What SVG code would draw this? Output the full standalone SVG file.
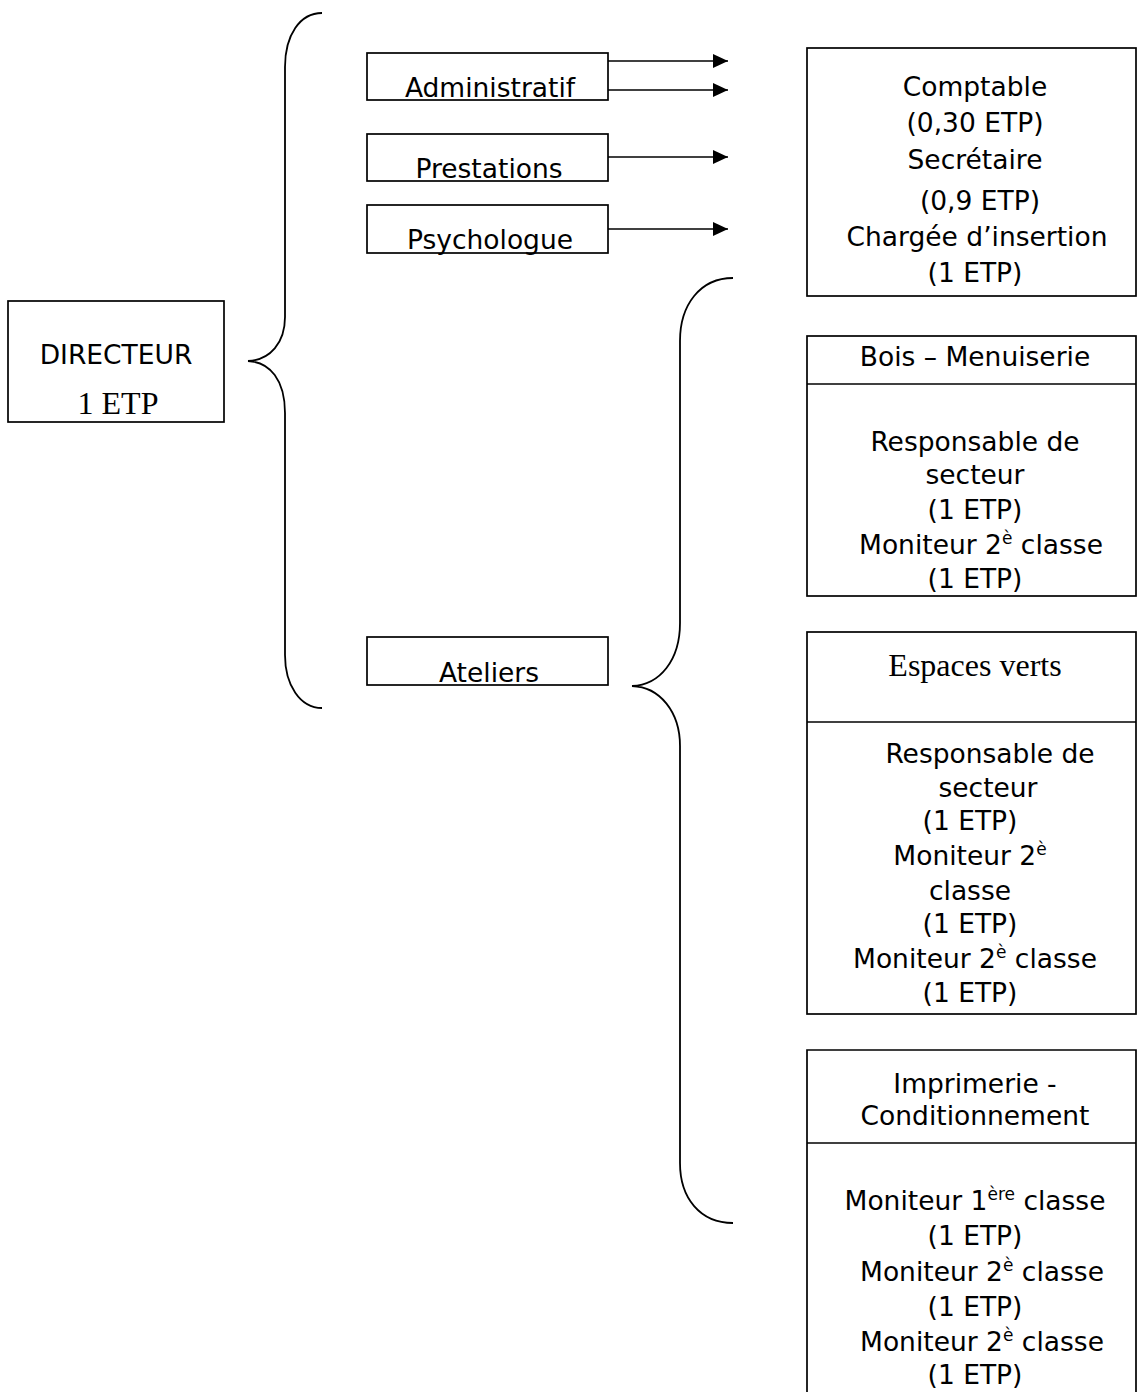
<svg xmlns="http://www.w3.org/2000/svg" width="1137" height="1392" viewBox="0 0 1137 1392">
<style>
  .box { fill: #ffffff; stroke: #000000; stroke-width: 1.7; }
  .line { fill: none; stroke: #000000; stroke-width: 1.7; }
  .brace { fill: none; stroke: #000000; stroke-width: 1.8; }
  .t { font-family: "DejaVu Sans", Verdana, sans-serif; font-size: 26.5px; fill: #000000; text-anchor: middle; }
  .s { font-family: "Liberation Serif", "Times New Roman", serif; font-size: 32px; fill: #000000; text-anchor: middle; }
  .sup { font-size: 17px; }
</style>
<defs>
  <marker id="arrow" markerWidth="16" markerHeight="14" refX="15" refY="7" orient="auto" markerUnits="userSpaceOnUse">
    <path d="M0,0 L15,7 L0,14 Z" fill="#000000"/>
  </marker>
</defs>
<rect width="1137" height="1392" fill="#ffffff"/>

<g id="connectors">
  <path class="brace" d="M322,13 C300,13 285,35 285,67 L285,317 C285,343 270,360 248,361 C270,362 285,380 285,413 L285,655 C285,685 300,708 322,708"/>
  <path class="brace" d="M733,278 C700,278 680,305 680,341 L680,623 C680,660 660,685 632,686 C660,687 680,712 680,746 L680,1163 C680,1198 700,1223 733,1223"/>
  <line class="line" x1="608" y1="61" x2="728" y2="61" marker-end="url(#arrow)"/>
  <line class="line" x1="608" y1="90" x2="728" y2="90" marker-end="url(#arrow)"/>
  <line class="line" x1="608" y1="157" x2="728" y2="157" marker-end="url(#arrow)"/>
  <line class="line" x1="608" y1="229" x2="728" y2="229" marker-end="url(#arrow)"/>
</g>

<g id="directeur">
  <rect class="box" x="8" y="301" width="216" height="121"/>
  <text class="t" x="116" y="364">DIRECTEUR</text>
  <text class="s" x="118" y="414">1 ETP</text>
</g>

<g id="administratif">
  <rect class="box" x="367" y="53" width="241" height="47"/>
  <text class="t" x="490" y="97">Administratif</text>
</g>

<g id="prestations">
  <rect class="box" x="367" y="134" width="241" height="47"/>
  <text class="t" x="489" y="178">Prestations</text>
</g>

<g id="psychologue">
  <rect class="box" x="367" y="205" width="241" height="48"/>
  <text class="t" x="490" y="249">Psychologue</text>
</g>

<g id="ateliers">
  <rect class="box" x="367" y="637" width="241" height="48"/>
  <text class="t" x="489" y="682">Ateliers</text>
</g>

<g id="administration-staff">
  <rect class="box" x="807" y="48" width="329" height="248"/>
  <text class="t" x="975" y="96">Comptable</text>
  <text class="t" x="975" y="132">(0,30 ETP)</text>
  <text class="t" x="975" y="169">Secrétaire</text>
  <text class="t" x="980" y="210">(0,9 ETP)</text>
  <text class="t" x="977" y="246">Chargée d’insertion</text>
  <text class="t" x="975" y="282">(1 ETP)</text>
</g>

<g id="bois-menuiserie">
  <rect class="box" x="807" y="336" width="329" height="260"/>
  <line class="line" x1="807" y1="384" x2="1136" y2="384"/>
  <text class="t" x="975" y="366">Bois – Menuiserie</text>
  <text class="t" x="975" y="451">Responsable de</text>
  <text class="t" x="975" y="484">secteur</text>
  <text class="t" x="975" y="519">(1 ETP)</text>
  <text class="t" x="981" y="554">Moniteur 2<tspan class="sup" dy="-10">è</tspan><tspan dy="10"> classe</tspan></text>
  <text class="t" x="975" y="588">(1 ETP)</text>
</g>

<g id="espaces-verts">
  <rect class="box" x="807" y="632" width="329" height="382"/>
  <line class="line" x1="807" y1="722" x2="1136" y2="722"/>
  <text class="s" x="975" y="676">Espaces verts</text>
  <text class="t" x="990" y="763">Responsable de</text>
  <text class="t" x="988" y="797">secteur</text>
  <text class="t" x="970" y="830">(1 ETP)</text>
  <text class="t" x="970" y="865">Moniteur 2<tspan class="sup" dy="-10">è</tspan></text>
  <text class="t" x="970" y="900">classe</text>
  <text class="t" x="970" y="933">(1 ETP)</text>
  <text class="t" x="975" y="968">Moniteur 2<tspan class="sup" dy="-10">è</tspan><tspan dy="10"> classe</tspan></text>
  <text class="t" x="970" y="1002">(1 ETP)</text>
</g>

<g id="imprimerie-conditionnement">
  <path class="line" d="M807,1420 L807,1050 L1136,1050 L1136,1420"/>
  <line class="line" x1="807" y1="1143" x2="1136" y2="1143"/>
  <text class="t" x="975" y="1093">Imprimerie -</text>
  <text class="t" x="975" y="1125">Conditionnement</text>
  <text class="t" x="975" y="1210">Moniteur 1<tspan class="sup" dy="-10">ère</tspan><tspan dy="10"> classe</tspan></text>
  <text class="t" x="975" y="1245">(1 ETP)</text>
  <text class="t" x="982" y="1281">Moniteur 2<tspan class="sup" dy="-10">è</tspan><tspan dy="10"> classe</tspan></text>
  <text class="t" x="975" y="1316">(1 ETP)</text>
  <text class="t" x="982" y="1351">Moniteur 2<tspan class="sup" dy="-10">è</tspan><tspan dy="10"> classe</tspan></text>
  <text class="t" x="975" y="1384">(1 ETP)</text>
</g>
</svg>
